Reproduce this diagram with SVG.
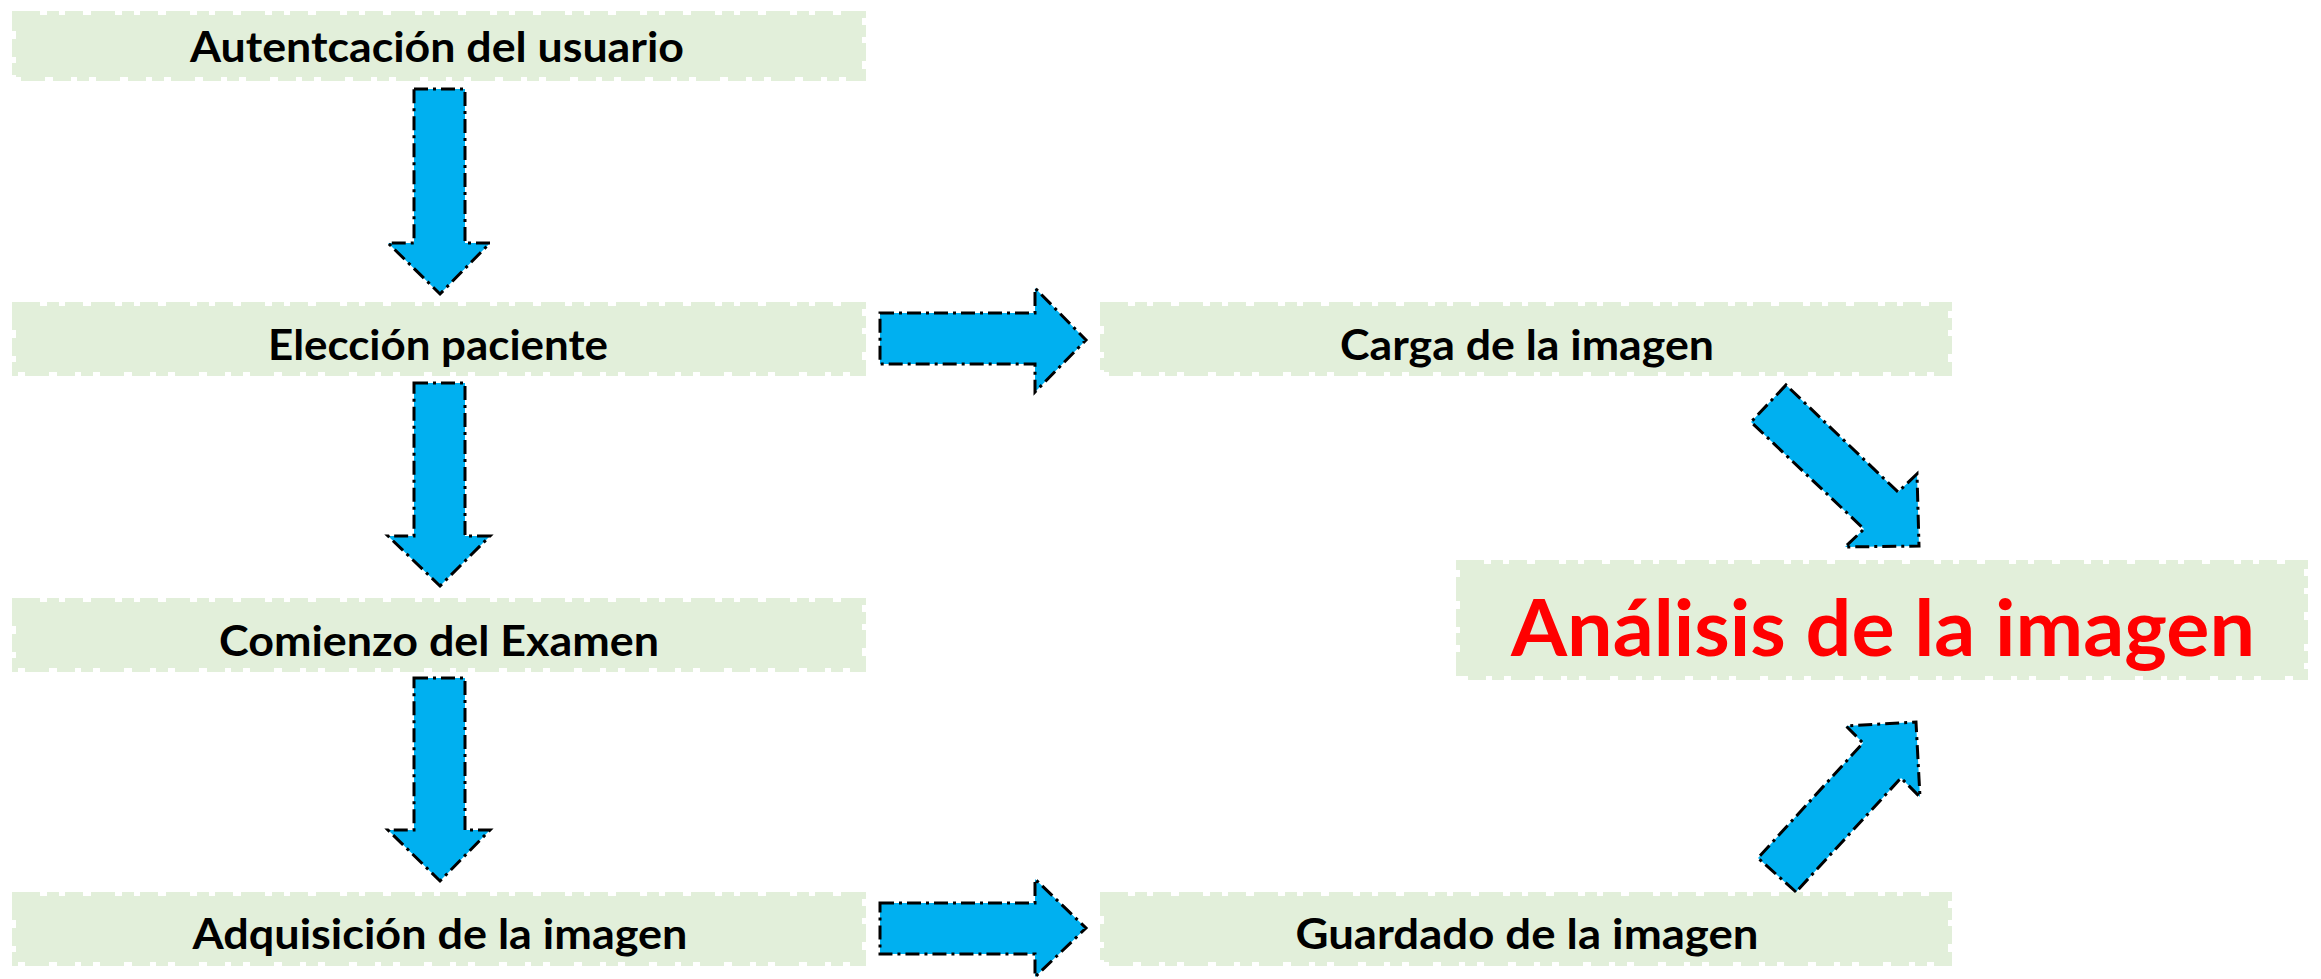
<svg xmlns="http://www.w3.org/2000/svg" width="2321" height="979" viewBox="0 0 2321 979">
<style>
.box{fill:#E2EFDA;stroke:#E2EFDA;stroke-width:8;stroke-dasharray:24 7 12 6 18 8}
.lbl{font-family:Lato,"Liberation Sans",sans-serif;font-weight:bold;font-size:42px;fill:#000;text-anchor:middle}
.big{font-family:Lato,"Liberation Sans",sans-serif;font-weight:bold;font-size:78px;fill:#FF0000;text-anchor:middle}
.arr{fill:#00B0F0;stroke:#000;stroke-width:3;stroke-dasharray:14 5 3 5;stroke-linejoin:miter}
</style>
<rect width="2321" height="979" fill="#fff"/>
<g id="n1"><rect class="box" x="16" y="15" width="846" height="62"/><text class="lbl" x="437" y="62" textLength="494" lengthAdjust="spacingAndGlyphs">Autentcación del usuario</text></g>
<g id="n2"><rect class="box" x="16" y="306" width="846" height="66"/><text class="lbl" x="438" y="360" textLength="340" lengthAdjust="spacingAndGlyphs">Elección paciente</text></g>
<g id="n3"><rect class="box" x="16" y="602" width="846" height="66"/><text class="lbl" x="439" y="656" textLength="440" lengthAdjust="spacingAndGlyphs">Comienzo del Examen</text></g>
<g id="n4"><rect class="box" x="16" y="896" width="846" height="66"/><text class="lbl" x="440" y="949" textLength="495" lengthAdjust="spacingAndGlyphs">Adquisición de la imagen</text></g>
<g id="n5"><rect class="box" x="1104" y="306" width="844" height="66"/><text class="lbl" x="1527" y="360" textLength="374" lengthAdjust="spacingAndGlyphs">Carga de la imagen</text></g>
<g id="n6"><rect class="box" x="1104" y="896" width="844" height="66"/><text class="lbl" x="1527" y="949" textLength="463" lengthAdjust="spacingAndGlyphs">Guardado de la imagen</text></g>
<g id="n7"><rect class="box" x="1460" y="564" width="844" height="112"/><text class="big" x="1883" y="656" textLength="744" lengthAdjust="spacingAndGlyphs">Análisis de la imagen</text></g>
<g id="connectors">
<polygon class="arr" points="414,89 465,89 465,243 490,243 440,294 388,243 414,243"/>
<polygon class="arr" points="414,383 465,383 465,536 490,536 440,586 388,536 414,536"/>
<polygon class="arr" points="414,678 465,678 465,830 490,830 440,881 388,830 414,830"/>
<polygon class="arr" points="880,313 1035,313 1035,288 1086,340 1035,392 1035,364 880,364"/>
<polygon class="arr" points="880,903 1035,903 1035,879 1086,928 1035,977 1035,954 880,954"/>
<polygon class="arr" points="1786,385 1751,422 1864,529 1845,547 1919,546 1917,474 1898,492"/>
<polygon class="arr" points="1796,892 1758,858 1863,743 1846,726 1916,722 1920,797 1901,778"/>
</g>
</svg>
